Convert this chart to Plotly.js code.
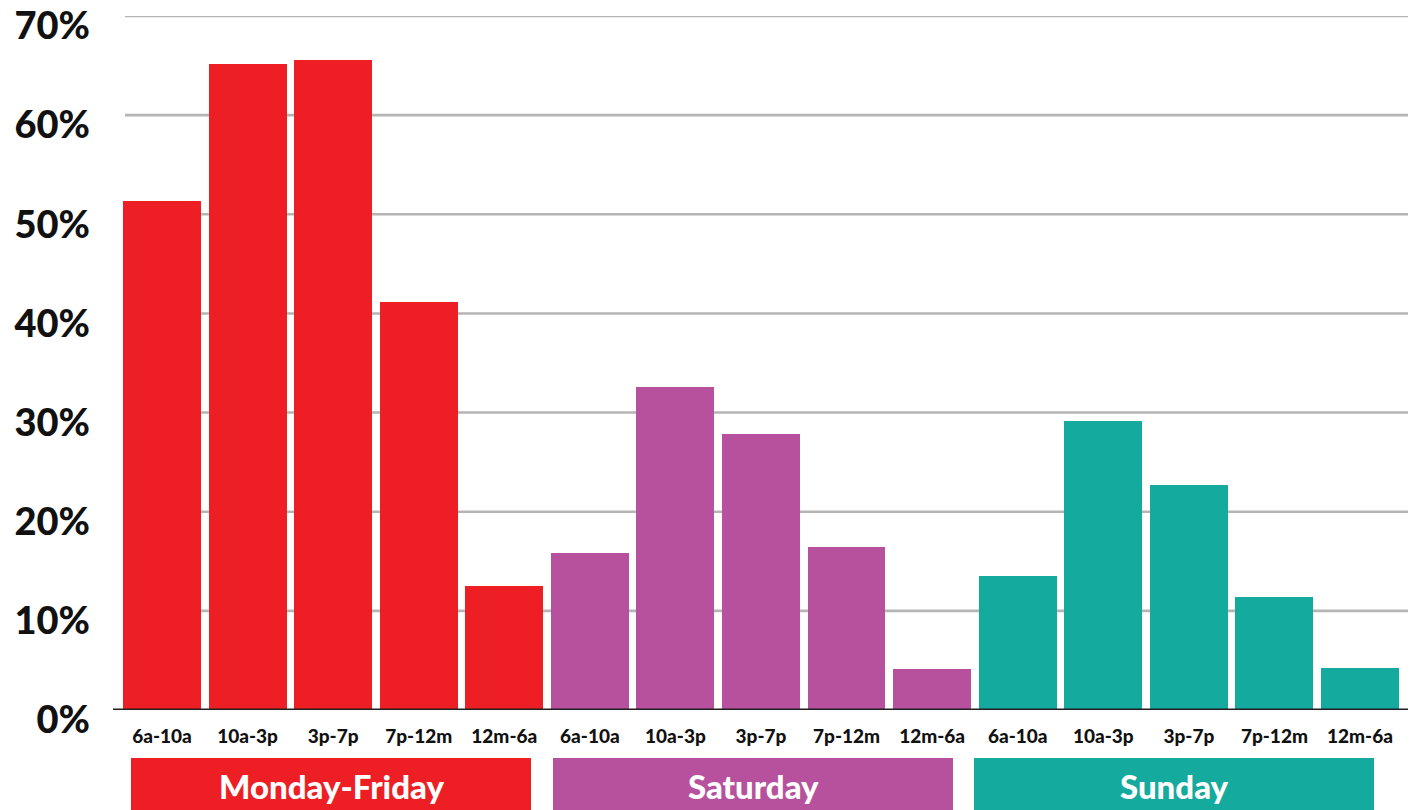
<!DOCTYPE html>
<html>
<head>
<meta charset="utf-8">
<script src="https://cdn.plot.ly/plotly-3.0.1.min.js"></script>
<style>
  html, body { margin: 0; padding: 0; background: #fff; }
  #chart { width: 1416px; height: 810px; }
</style>
</head>
<body>
<div id="chart"></div>
<script>
// Share of activity by time slot, grouped by day type (percent)
const timeSlots = ["6a-10a", "10a-3p", "3p-7p", "7p-12m", "12m-6a"];
const groups = ["Monday-Friday", "Saturday", "Sunday"];
const weekdayValues = [51.3, 65.2, 65.6, 41.2, 12.5];
const saturdayValues = [15.8, 32.6, 27.8, 16.4, 4.1];
const sundayValues = [13.5, 29.2, 22.7, 11.4, 4.2];
const groupColors = ["#ed1f24", "#b7519d", "#15aa9e"];
const yTicks = [0, 10, 20, 30, 40, 50, 60, 70];
const yTickText = yTicks.map(v => v + "%");

const seriesValues = [weekdayValues, saturdayValues, sundayValues];

// Layout geometry (pixels)
const W = 1416, H = 810;
const M = { l: 113, r: 8, t: 16, b: 100 };
const plotW = W - M.l - M.r;
const plotH = H - M.t - M.b;
const px2paperX = px => (px - M.l) / plotW;
const py2paperY = py => (H - M.b - py) / plotH;

const FONT = "Lato, 'Open Sans', sans-serif";

// One bar trace per group, placed on consecutive slots
const traces = seriesValues.map((vals, g) => ({
  type: "bar",
  x: vals.map((_, i) => g * timeSlots.length + i),
  y: vals,
  width: 0.91,
  marker: { color: groupColors[g], line: { width: 0 } },
  hoverinfo: "y",
  showlegend: false,
  cliponaxis: false
}));

const nSlots = groups.length * timeSlots.length;
const tickVals = Array.from({ length: nSlots }, (_, i) => i);
const tickText = tickVals.map(i => timeSlots[i % timeSlots.length]);

const shapes = [];
// horizontal grid lines (drawn under the bars)
yTicks.filter(v => v > 0).forEach(v => {
  shapes.push({
    type: "line", layer: "below",
    xref: "paper", yref: "y",
    x0: px2paperX(125), x1: 1, y0: v, y1: v,
    line: { color: "#b5b5b5", width: 2.6 }
  });
});
// baseline
shapes.push({
  type: "line", layer: "above",
  xref: "paper", yref: "y",
  x0: 0, x1: 1, y0: 0, y1: 0,
  line: { color: "#231f20", width: 3 }
});

// group bands under the axis
const bandLeft = [131, 553, 974];
const bandWidth = 400;
const annotations = [];
groups.forEach((name, g) => {
  shapes.push({
    type: "rect", layer: "above",
    xref: "paper", yref: "paper",
    x0: px2paperX(bandLeft[g]), x1: px2paperX(bandLeft[g] + bandWidth),
    y0: py2paperY(758), y1: py2paperY(830),
    fillcolor: groupColors[g], line: { width: 0 }
  });
  annotations.push({
    xref: "paper", yref: "paper",
    x: px2paperX(bandLeft[g] + bandWidth / 2), y: py2paperY(786),
    xanchor: "center", yanchor: "middle",
    text: name,
    showarrow: false,
    font: { family: FONT, size: 33, weight: 900, color: "#ffffff" }
  });
});

const barSpacing = 85.57;
const x0Range = -(162 - M.l) / barSpacing;

const layout = {
  width: W, height: H,
  margin: M,
  paper_bgcolor: "#ffffff",
  plot_bgcolor: "#ffffff",
  bargap: 0,
  xaxis: {
    range: [x0Range, x0Range + plotW / barSpacing],
    tickmode: "array",
    tickvals: tickVals,
    ticktext: tickText,
    showgrid: false, zeroline: false, showline: false,
    ticks: "", ticklabelstandoff: 13,
    tickfont: { family: FONT, size: 19, weight: 900, color: "#111111" },
    fixedrange: true
  },
  yaxis: {
    range: [0, 70.0001],
    tickmode: "array",
    tickvals: yTicks,
    ticktext: yTickText,
    showgrid: false, zeroline: false, showline: false,
    ticks: "", ticklabelstandoff: 22,
    ticklabelshift: 10,
    tickfont: { family: FONT, size: 38, weight: 900, color: "#111111" },
    fixedrange: true
  },
  shapes: shapes,
  annotations: annotations,
  showlegend: false
};

Plotly.newPlot("chart", traces, layout, { displayModeBar: false, staticPlot: true });
</script>
</body>
</html>
